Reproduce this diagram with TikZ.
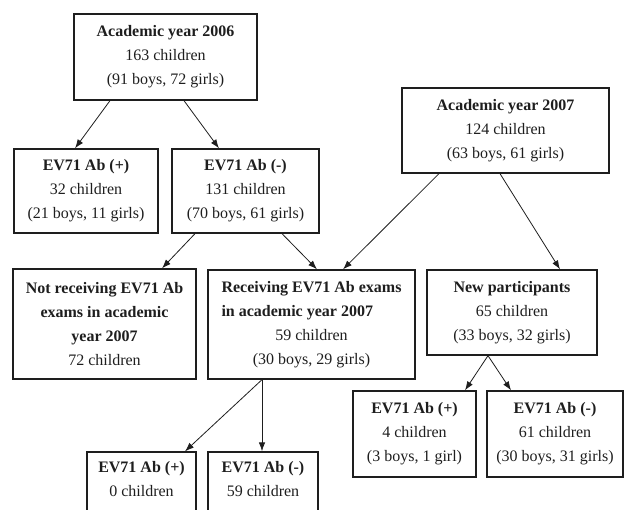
\documentclass[tikz,border=0pt]{standalone}
\usepackage{fontspec}
\setmainfont{Liberation Serif}
\usepackage{calc}
\usetikzlibrary{arrows.meta}
\definecolor{ink}{RGB}{30,30,30}
\begin{document}
\begin{tikzpicture}[x=1pt,y=-1pt,
  box/.style={draw=ink, line width=1.3pt, inner sep=0pt, align=center, text=ink,
    font=\fontsize{16}{24}\selectfont},
  arr/.style={draw=ink, line width=0.8pt, -{Latex[length=9pt,width=6.5pt]}}]
\useasboundingbox (0,0) rectangle (624,509);
\clip (0,0) rectangle (624,509);
\node[box, minimum width=183pt, minimum height=86pt] (A06) at (165.5,57)
  {\textbf{Academic year 2006}\\163 children\\(91 boys, 72 girls)};
\node[box, minimum width=144pt, minimum height=84pt] (P1) at (86,191)
  {\textbf{EV71 Ab (+)}\\32 children\\(21 boys, 11 girls)};
\node[box, minimum width=147pt, minimum height=84pt] (N1) at (245.5,191)
  {\textbf{EV71 Ab (-)}\\131 children\\(70 boys, 61 girls)};
\node[box, minimum width=183pt, minimum height=110pt] (NR) at (104.5,324)
  {\textbf{Not receiving EV71 Ab}\\\textbf{exams in academic}\\\textbf{year 2007}\\72 children};
\node[box, minimum width=207pt, minimum height=109pt] (R) at (311.5,324.5)
  {\textbf{Receiving EV71 Ab exams}\\\makebox[\widthof{\textbf{Receiving EV71 Ab exams}}][l]{\textbf{in academic year 2007}}\\59 children\\(30 boys, 29 girls)};
\node[box, minimum width=207pt, minimum height=85pt] (A07) at (505.5,130.5)
  {\textbf{Academic year 2007}\\124 children\\(63 boys, 61 girls)};
\node[box, minimum width=170pt, minimum height=85pt] (NP) at (512,312.5)
  {\textbf{New participants}\\65 children\\(33 boys, 32 girls)};
\node[box, minimum width=123pt, minimum height=86pt] (P2) at (414.5,434)
  {\textbf{EV71 Ab (+)}\\4 children\\(3 boys, 1 girl)};
\node[box, minimum width=136pt, minimum height=86pt] (N2) at (555,434)
  {\textbf{EV71 Ab (-)}\\61 children\\(30 boys, 31 girls)};
\node[box, minimum width=109pt, minimum height=86pt] (P0) at (141.5,495)
  {\textbf{EV71 Ab (+)}\\0 children\\\strut};
\node[box, minimum width=110pt, minimum height=86pt] (N0) at (263,495)
  {\textbf{EV71 Ab (-)}\\59 children\\\strut};
\draw[arr] ([xshift=-55.5pt]A06.south) -- ([xshift=-11pt]P1.north);
\draw[arr] ([xshift=18.5pt]A06.south) -- ([xshift=-26.5pt]N1.north);
\draw[arr] ([xshift=-50.5pt]N1.south) -- ([xshift=57.5pt]NR.north);
\draw[arr] ([xshift=36.5pt]N1.south) -- ([xshift=5.5pt]R.north);
\draw[arr] ([xshift=-66.5pt]A07.south) -- ([xshift=31.5pt]R.north);
\draw[arr] ([xshift=-5.5pt]A07.south) -- ([xshift=48pt]NP.north);
\draw[arr] ([xshift=-49.5pt]R.south) -- ([xshift=43.5pt]P0.north);
\draw[arr] ([xshift=-49.5pt]R.south) -- ([xshift=-1pt]N0.north);
\draw[arr] ([xshift=-24pt]NP.south) -- ([xshift=50.5pt]P2.north);
\draw[arr] ([xshift=-24pt]NP.south) -- ([xshift=-44pt]N2.north);
\end{tikzpicture}
\end{document}
